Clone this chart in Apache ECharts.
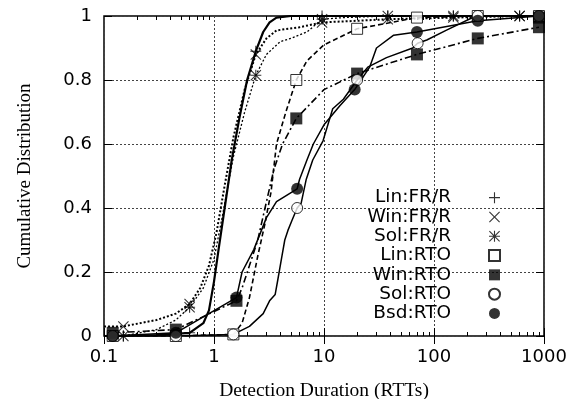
<!DOCTYPE html>
<html lang="en">
<head>
<meta charset="utf-8">
<script src="https://cdn.jsdelivr.net/npm/echarts@6/dist/echarts.min.js"></script>
<style>
    html, body { margin: 0; padding: 0; background: #fff; }
    #chart { width: 574px; height: 399px; }
</style>
</head>
<body>
<div id="chart"></div>
<script>
// curves, [rtt, cdf]
var linFR = [[0.1,0],[0.3,0.003],[0.6,0.01],[0.8,0.04],[0.9,0.08],[1.0,0.17],[1.1,0.27],[1.25,0.4],[1.45,0.55],[1.7,0.68],[2.0,0.8],[2.4,0.89],[2.8,0.95],[3.2,0.98],[3.7,0.995],[5,1],[1000,1]];
var winFR = [[0.1,0.03],[0.15,0.03],[0.3,0.05],[0.45,0.07],[0.6,0.1],[0.75,0.15],[0.9,0.22],[1.05,0.32],[1.25,0.47],[1.5,0.62],[1.9,0.77],[2.4,0.88],[3,0.93],[3.7,0.955],[6,0.965],[9.6,0.98],[20,0.985],[38,0.99],[150,0.995],[600,1],[1000,1]];
var solFR = [[0.1,0],[0.15,0],[0.3,0.02],[0.45,0.05],[0.6,0.09],[0.8,0.15],[1.0,0.24],[1.2,0.38],[1.5,0.56],[1.9,0.7],[2.4,0.815],[3,0.88],[4,0.92],[5,0.93],[7,0.95],[9.6,0.99],[15,0.995],[38,1],[1000,1]];
var linRTO = [[0.12,0],[0.45,0],[1.5,0.005],[1.8,0.04],[2.1,0.12],[2.5,0.25],[2.9,0.35],[3.3,0.45],[3.7,0.6],[4.5,0.7],[5.6,0.8],[7,0.86],[10,0.91],[20,0.96],[70,0.995],[250,1],[900,1]];
var winRTO = [[0.12,0.01],[0.45,0.02],[1.6,0.11],[1.8,0.15],[2.1,0.22],[2.5,0.3],[3.0,0.42],[3.5,0.52],[4.2,0.6],[5.6,0.68],[10,0.77],[20,0.82],[70,0.88],[250,0.93],[900,0.965]];
var solRTO = [[0.12,0],[0.45,0],[1.5,0.005],[2.1,0.03],[2.8,0.07],[3.2,0.11],[3.6,0.13],[3.8,0.175],[4.1,0.24],[4.4,0.3],[4.7,0.33],[5.1,0.36],[5.7,0.4],[6.2,0.415],[6.9,0.49],[7.9,0.55],[9.8,0.61],[12,0.71],[15,0.74],[20,0.8],[25,0.84],[37,0.87],[64,0.9],[71,0.915],[86,0.925],[130,0.956],[240,1],[900,1]];
var bsdRTO = [[0.12,0],[0.45,0.01],[1.6,0.12],[1.8,0.2],[2.3,0.27],[3.0,0.37],[3.7,0.42],[5.7,0.46],[6,0.49],[7,0.55],[8,0.6],[10,0.66],[14,0.72],[19,0.77],[26,0.84],[30,0.9],[43,0.94],[70,0.95],[250,0.985],[900,1]];

// point markers
var linFRPts = [[0.15,0],[0.6,0.01],[2.4,0.89],[9.6,1],[38,1],[150,1],[600,1]];
var winFRPts = [[0.15,0.03],[0.6,0.1],[2.4,0.88],[9.6,0.98],[38,0.99],[150,0.995],[600,1]];
var solFRPts = [[0.15,0],[0.6,0.09],[2.4,0.815],[9.6,0.99],[38,1],[150,1],[600,1]];
var linRTOPts = [[0.12,0],[0.45,0],[1.5,0.005],[5.6,0.8],[20,0.96],[70,0.995],[250,1],[900,1]];
var winRTOPts = [[0.12,0.01],[0.45,0.02],[1.6,0.11],[5.6,0.68],[20,0.82],[70,0.88],[250,0.93],[900,0.965],[900,0.995]];
var solRTOPts = [[0.12,0],[0.45,0],[1.5,0.005],[5.7,0.4],[20,0.8],[71,0.915],[250,1],[900,1]];
var bsdRTOPts = [[0.12,0],[0.45,0.01],[1.6,0.12],[5.7,0.46],[19,0.77],[70,0.95],[250,0.985],[900,1]];

var names = ['Lin:FR/R', 'Win:FR/R', 'Sol:FR/R', 'Lin:RTO', 'Win:RTO', 'Sol:RTO', 'Bsd:RTO'];
var minorTicks = [];
[0.1, 1, 10, 100].forEach(function (d) {
    for (var k = 2; k <= 9; k++) minorTicks.push(+(d * k).toPrecision(3));
});

var PLUS = 'path://M9,0H11V9H20V11H11V20H9V11H0V9H9Z';
var CROSS = 'path://M1.4,0L10,8.6L18.6,0L20,1.4L11.4,10L20,18.6L18.6,20L10,11.4L1.4,20L0,18.6L8.6,10L0,1.4Z';
var STAR = 'path://M9,0H11V20H9Z M0,9H20V11H0Z M1.4,0L20,18.6L18.6,20L0,1.4Z M18.6,0L20,1.4L1.4,20L0,18.6Z';

var sans = 'DejaVu Sans';
var serif = 'Liberation Serif';

function curve(data, width, dash) {
    return {
        type: 'line', data: data, showSymbol: false, symbol: 'none',
        lineStyle: {color: '#000', width: width, type: dash},
        silent: true, z: 2
    };
}
function marks(name, data, symbol, size, filled) {
    return {
        type: 'scatter', name: name, data: data, symbol: symbol, symbolSize: size,
        itemStyle: filled ? {color: '#000'} : {color: '#fff', borderColor: '#000', borderWidth: 1},
        z: 3
    };
}

var chart = echarts.init(document.getElementById('chart'), null, {renderer: 'canvas'});
chart.setOption({
    animation: false,
    grid: {left: 104, right: 30, top: 16, bottom: 63, outerBoundsMode: 'none', containLabel: false,
        show: true, borderColor: '#000', borderWidth: 1.5, backgroundColor: 'transparent'},
    legend: {
        data: names, orient: 'vertical', left: 363, top: 188, padding: 0, itemGap: 0,
        itemWidth: 11, itemHeight: 11, align: 'right', selectedMode: false,
        formatter: function (n) { return '{t|' + n + '}'; },
        textStyle: {lineHeight: 19.3, rich: {t: {width: 88, height: 19.3, lineHeight: 19.3, padding: [0, 33, 0, 0], align: 'right', fontFamily: sans, fontSize: 18.5, color: '#000'}}}
    },
    xAxis: [{
        type: 'log', logBase: 10, min: 0.1, max: 1000,
        name: 'Detection Duration (RTTs)', nameLocation: 'middle', nameGap: 45,
        nameTextStyle: {fontFamily: serif, fontSize: 19.5, color: '#000'},
        axisLine: {show: false},
        axisTick: {inside: true, length: 8, lineStyle: {color: '#000'}},
        axisLabel: {fontFamily: sans, fontSize: 18, color: '#000', margin: 12,
            formatter: function (v) { return String(v); }},
        splitLine: {show: true, lineStyle: {color: '#444', type: [2, 2], width: 1}}
    }, {
        type: 'log', logBase: 10, min: 0.1, max: 1000, position: 'top',
        axisLine: {show: false}, axisLabel: {show: false}, splitLine: {show: false},
        axisTick: {inside: true, length: 8, lineStyle: {color: '#000'}}
    }, {
        type: 'log', logBase: 10, min: 0.1, max: 1000, position: 'bottom',
        axisLine: {show: false}, axisLabel: {show: false}, splitLine: {show: false},
        axisTick: {inside: true, length: 4, customValues: minorTicks, lineStyle: {color: '#000'}}
    }, {
        type: 'log', logBase: 10, min: 0.1, max: 1000, position: 'top',
        axisLine: {show: false}, axisLabel: {show: false}, splitLine: {show: false},
        axisTick: {inside: true, length: 4, customValues: minorTicks, lineStyle: {color: '#000'}}
    }],
    yAxis: [{
        type: 'value', min: 0, max: 1, interval: 0.2,
        name: 'Cumulative Distribution', nameLocation: 'middle', nameGap: 69, nameRotate: 90,
        nameTextStyle: {fontFamily: serif, fontSize: 19, color: '#000'},
        axisLine: {show: false},
        axisTick: {inside: true, length: 8, lineStyle: {color: '#000'}},
        axisLabel: {fontFamily: sans, fontSize: 18, color: '#000', margin: 12,
            formatter: function (v) { return String(+v.toFixed(1)); }},
        splitLine: {show: true, lineStyle: {color: '#444', type: [2, 2], width: 1}}
    }, {
        type: 'value', min: 0, max: 1, interval: 0.2, position: 'right',
        axisLine: {show: false}, axisLabel: {show: false}, splitLine: {show: false},
        axisTick: {inside: true, length: 8, lineStyle: {color: '#000'}}
    }],
    series: [
        curve(linFR, 2.2, 'solid'),
        curve(winFR, 2, [2, 2]),
        curve(solFR, 1.3, [2, 2]),
        curve(linRTO, 1.6, [5, 3]),
        curve(winRTO, 1.6, [7, 3, 2, 3]),
        curve(solRTO, 1.5, 'solid'),
        curve(bsdRTO, 1.5, 'solid'),
        marks(names[0], linFRPts, PLUS, 11, true),
        marks(names[1], winFRPts, CROSS, 11, true),
        marks(names[2], solFRPts, STAR, 11, true),
        marks(names[3], linRTOPts, 'rect', 11, false),
        marks(names[4], winRTOPts, 'rect', 12, true),
        marks(names[5], solRTOPts, 'circle', 11, false),
        marks(names[6], bsdRTOPts, 'circle', 12, true)
    ]
});
</script>
</body>
</html>
